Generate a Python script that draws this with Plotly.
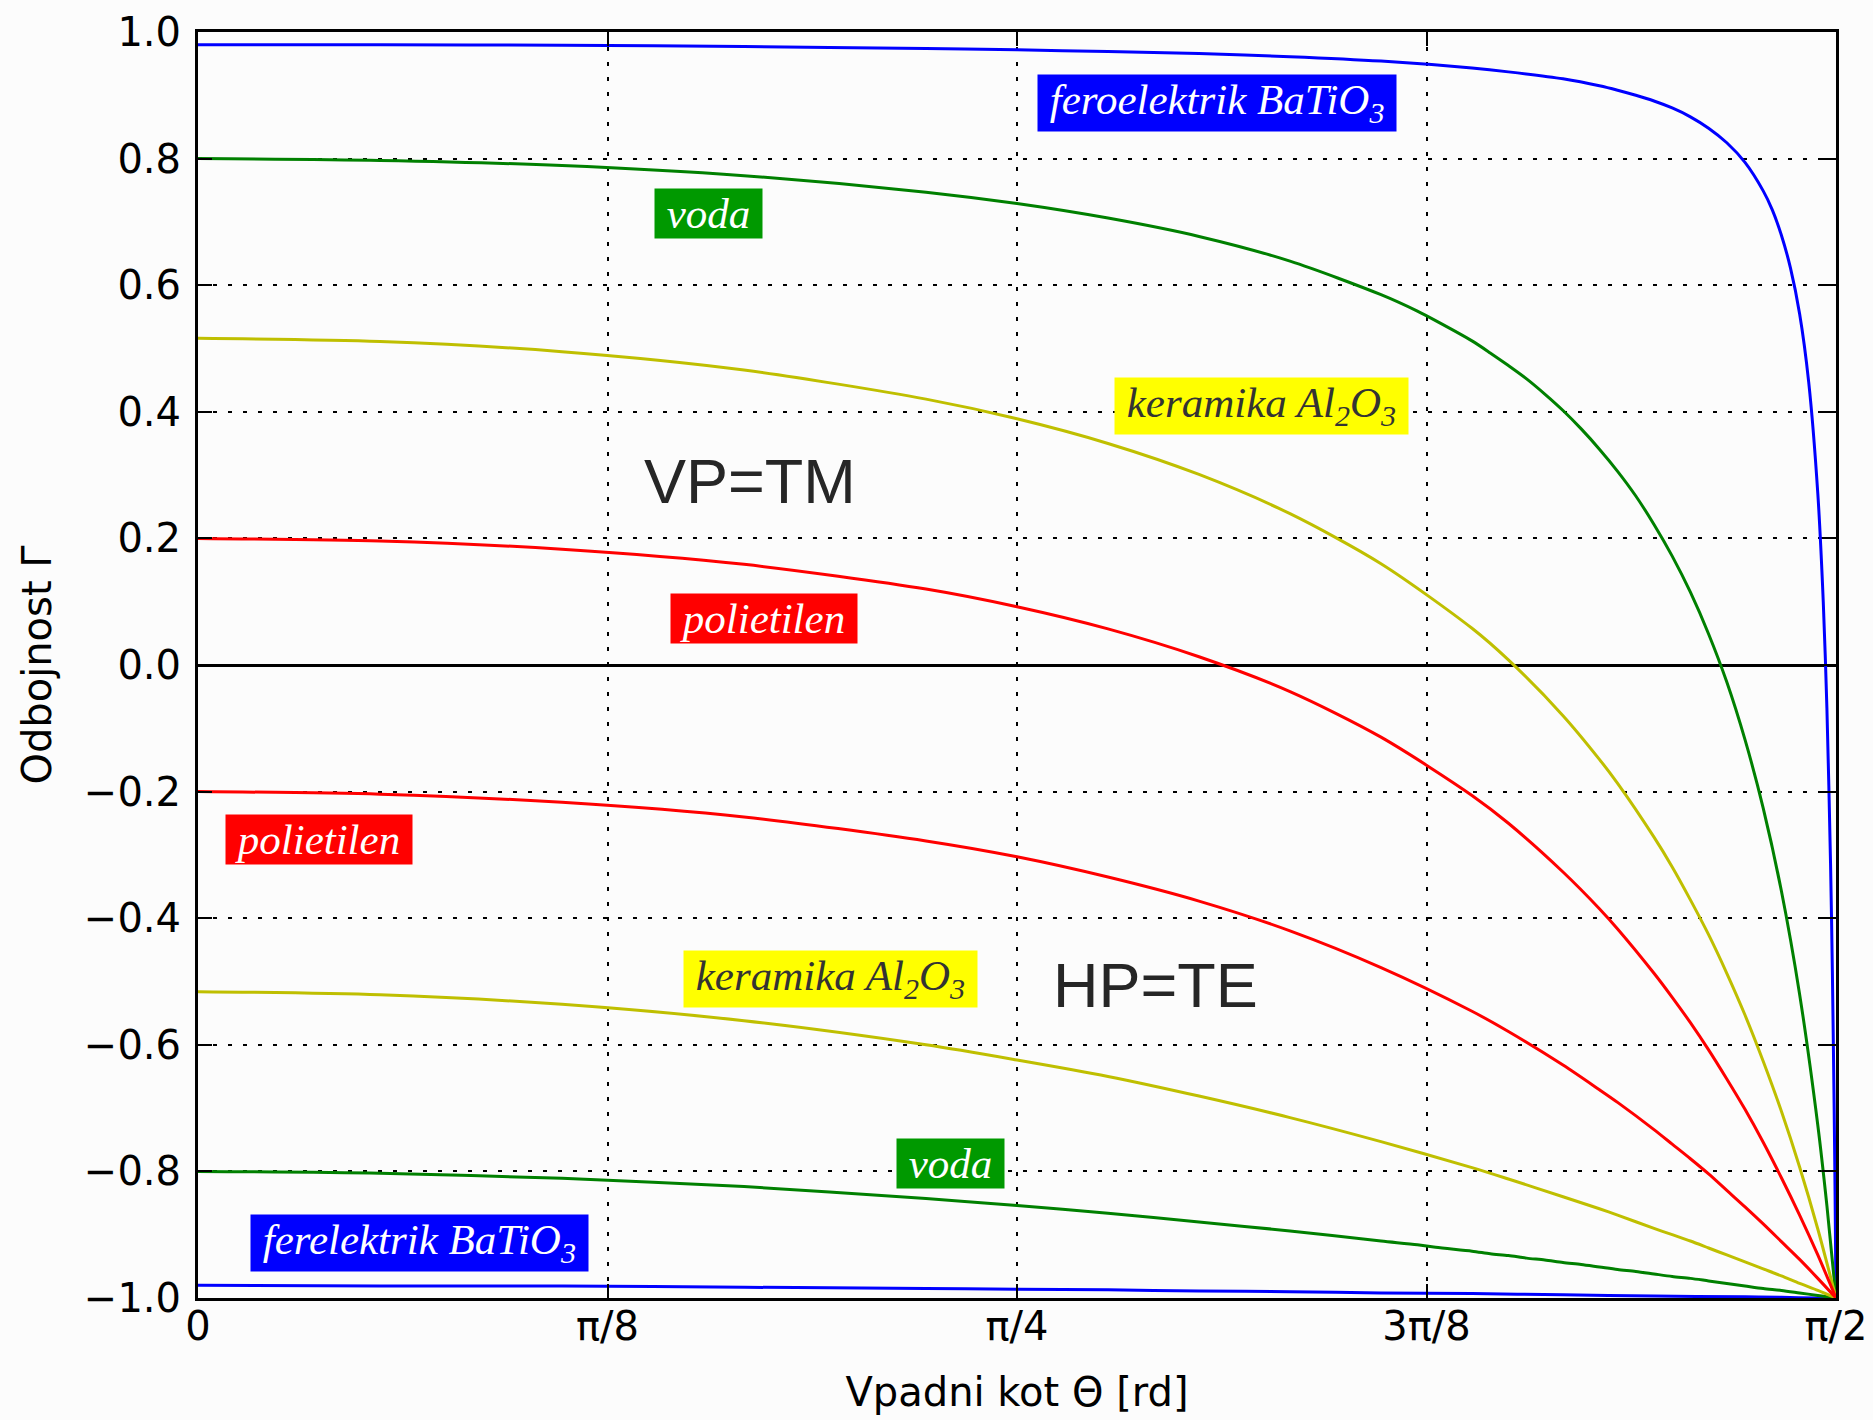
import numpy as np
import plotly.graph_objects as go

# ---------------- data ----------------
angles_deg = [0, 10, 20, 30, 40, 45, 50, 55, 60, 65, 70, 72, 75, 77, 78, 80, 81, 82, 83,
              84, 85, 86, 87, 88, 89, 90]

poly_tm = [0.200, 0.196, 0.183, 0.159, 0.120, 0.092, 0.057, 0.013, -0.042, -0.114, -0.206,
           -0.250, -0.327, -0.385, -0.417, -0.487, -0.525, -0.565, -0.608, -0.654, -0.702,
           -0.754, -0.810, -0.869, -0.932, -1.000]
poly_te = [-0.200, -0.204, -0.217, -0.240, -0.278, -0.303, -0.335, -0.373, -0.420, -0.478, -0.547,
           -0.579, -0.632, -0.671, -0.691, -0.734, -0.757, -0.780, -0.804, -0.830, -0.856,
           -0.883, -0.911, -0.939, -0.969, -1.000]
alumina_tm = [0.516, 0.511, 0.495, 0.466, 0.420, 0.389, 0.350, 0.301, 0.239, 0.160, 0.058,
              0.008, -0.080, -0.149, -0.187, -0.272, -0.319, -0.371, -0.426, -0.487, -0.553,
              -0.626, -0.705, -0.793, -0.891, -1.000]
alumina_te = [-0.516, -0.521, -0.536, -0.562, -0.600, -0.624, -0.650, -0.681, -0.715, -0.753, -0.794,
              -0.812, -0.840, -0.859, -0.869, -0.890, -0.900, -0.910, -0.921, -0.932, -0.943,
              -0.954, -0.965, -0.977, -0.988, -1.000]

angles_water = [0, 10, 20, 30, 40, 45, 50, 55, 60, 65, 67, 68, 70, 71, 72, 73, 74, 75, 76, 77,
                78, 79, 80, 81, 82, 83, 84, 85, 86, 87, 88, 89, 89.5, 90]
water_tm = [0.800, 0.797, 0.789, 0.773, 0.747, 0.729, 0.706, 0.677, 0.638, 0.585,
            0.559, 0.544, 0.512, 0.493, 0.473, 0.452, 0.428, 0.402, 0.373, 0.341,
            0.306, 0.267, 0.222, 0.172, 0.115, 0.049, -0.027, -0.118, -0.226, -0.357,
            -0.520, -0.727, -0.854, -1.000]
water_te = [-0.800, -0.803, -0.811, -0.824, -0.843, -0.854, -0.866, -0.880, -0.894, -0.910,
            -0.916, -0.920, -0.926, -0.930, -0.933, -0.937, -0.940, -0.944, -0.947, -0.951,
            -0.955, -0.958, -0.962, -0.966, -0.969, -0.973, -0.977, -0.981, -0.985, -0.988,
            -0.992, -0.996, -0.998, -1.000]

angles_batio3_tm = [0, 10, 20, 30, 40, 45, 50, 55, 60, 65, 70, 72, 75, 77, 78, 79, 80, 81, 82, 83,
                    84, 85, 86, 86.5, 87, 87.5, 88, 88.5, 89, 89.3, 89.5, 89.7, 89.8, 89.9, 89.95, 90]
batio3_tm = [0.980, 0.980, 0.979, 0.977, 0.974, 0.972, 0.969, 0.966, 0.961, 0.954, 0.943, 0.937,
             0.926, 0.915, 0.908, 0.900, 0.891, 0.880, 0.866, 0.848, 0.825, 0.794, 0.749, 0.719,
             0.679, 0.627, 0.555, 0.447, 0.271, 0.100, -0.068, -0.313, -0.483, -0.703, -0.839, -1.000]
angles_batio3_te = [0, 10, 20, 30, 40, 45, 50, 55, 60, 65, 70, 75, 80, 85, 87, 89, 90]
batio3_te = [-0.980, -0.981, -0.981, -0.983, -0.985, -0.986, -0.987, -0.989, -0.990, -0.992,
             -0.993, -0.995, -0.997, -0.998, -0.999, -1.000, -1.000]

x_tick_vals = [0, np.pi / 8, np.pi / 4, 3 * np.pi / 8, np.pi / 2]
x_tick_text = ["0", "π/8", "π/4", "3π/8", "π/2"]
y_tick_vals = [-1.0, -0.8, -0.6, -0.4, -0.2, 0.0, 0.2, 0.4, 0.6, 0.8, 1.0]
y_tick_text = ["−1.0", "−0.8", "−0.6", "−0.4", "−0.2", "0.0", "0.2", "0.4", "0.6", "0.8", "1.0"]

# ---------------- figure ----------------
BLUE, GREEN, YELLOW, RED = "#0000ff", "#008000", "#bfbf00", "#ff0000"


def rad(a):
    return np.radians(np.array(a, dtype=float))


series = [
    (angles_batio3_tm, batio3_tm, BLUE),
    (angles_batio3_te, batio3_te, BLUE),
    (angles_water, water_tm, GREEN),
    (angles_water, water_te, GREEN),
    (angles_deg, alumina_tm, YELLOW),
    (angles_deg, alumina_te, YELLOW),
    (angles_deg, poly_tm, RED),
    (angles_deg, poly_te, RED),
]

fig = go.Figure()
for ang, vals, col in series:
    fig.add_trace(go.Scatter(x=rad(ang), y=vals, mode="lines",
                             line=dict(color=col, width=3, shape="spline", smoothing=0.8),
                             showlegend=False, hoverinfo="skip"))

label_font = "Liberation Serif, Times New Roman, serif"


def tag(text, x, y, bg, fc="white"):
    fig.add_annotation(x=x, y=y, xref="x", yref="y",
                       text="&nbsp;<i>" + text + "</i>&nbsp;",
                       showarrow=False, xanchor="center", yanchor="middle",
                       bgcolor=bg, borderpad=1,
                       font=dict(family=label_font, size=43, color=fc))


tag("feroelektrik BaTiO<sub>3</sub>", 0.977, 0.888, "#0000ff")
tag("voda", 0.490, 0.714, "#009900")
tag("keramika Al<sub>2</sub>O<sub>3</sub>", 1.020, 0.409, "#ffff00", "#333333")
tag("polietilen", 0.543, 0.073, "#ff0000")
tag("polietilen", 0.116, -0.275, "#ff0000")
tag("keramika Al<sub>2</sub>O<sub>3</sub>", 0.607, -0.496, "#ffff00", "#333333")
tag("voda", 0.722, -0.787, "#009900")
tag("ferelektrik BaTiO<sub>3</sub>", 0.212, -0.913, "#0000ff")

big_font = dict(family="Liberation Sans, Arial, sans-serif", size=63, color="#262626")
fig.add_annotation(x=0.529, y=0.291, xref="x", yref="y", text="VP=TM", showarrow=False,
                   xanchor="center", yanchor="middle", font=big_font)
fig.add_annotation(x=0.918, y=-0.506, xref="x", yref="y", text="HP=TE", showarrow=False,
                   xanchor="center", yanchor="middle", font=big_font)

axis_common = dict(
    showline=True, linecolor="black", linewidth=3, mirror="allticks",
    ticks="inside", ticklen=14, tickwidth=2, tickcolor="black",
    showgrid=True, gridcolor="black", gridwidth=2, griddash="4px,11px",
    tickfont=dict(family="DejaVu Sans", size=40, color="black"),
    automargin=False,
)

fig.update_xaxes(range=[0, np.pi / 2], tickvals=x_tick_vals, ticktext=x_tick_text,
                 zeroline=False, ticklabelstandoff=-9,
                 title=dict(text="Vpadni kot Θ [rd]", standoff=30,
                            font=dict(family="DejaVu Sans", size=40, color="black")),
                 **axis_common)
fig.update_yaxes(range=[-1, 1], tickvals=y_tick_vals, ticktext=y_tick_text,
                 zeroline=True, zerolinecolor="black", zerolinewidth=3, ticklabelstandoff=6,
                 title=dict(text="Odbojnost Γ", standoff=20,
                            font=dict(family="DejaVu Sans", size=40, color="black")),
                 **axis_common)

fig.update_layout(width=1873, height=1420,
                  margin=dict(l=198, r=37, t=32, b=122),
                  paper_bgcolor="#fcfcfc", plot_bgcolor="#fcfcfc",
                  showlegend=False)

fig.write_html("out.html", config={"displayModeBar": False},
               post_script="document.body.style.margin='0px';")
